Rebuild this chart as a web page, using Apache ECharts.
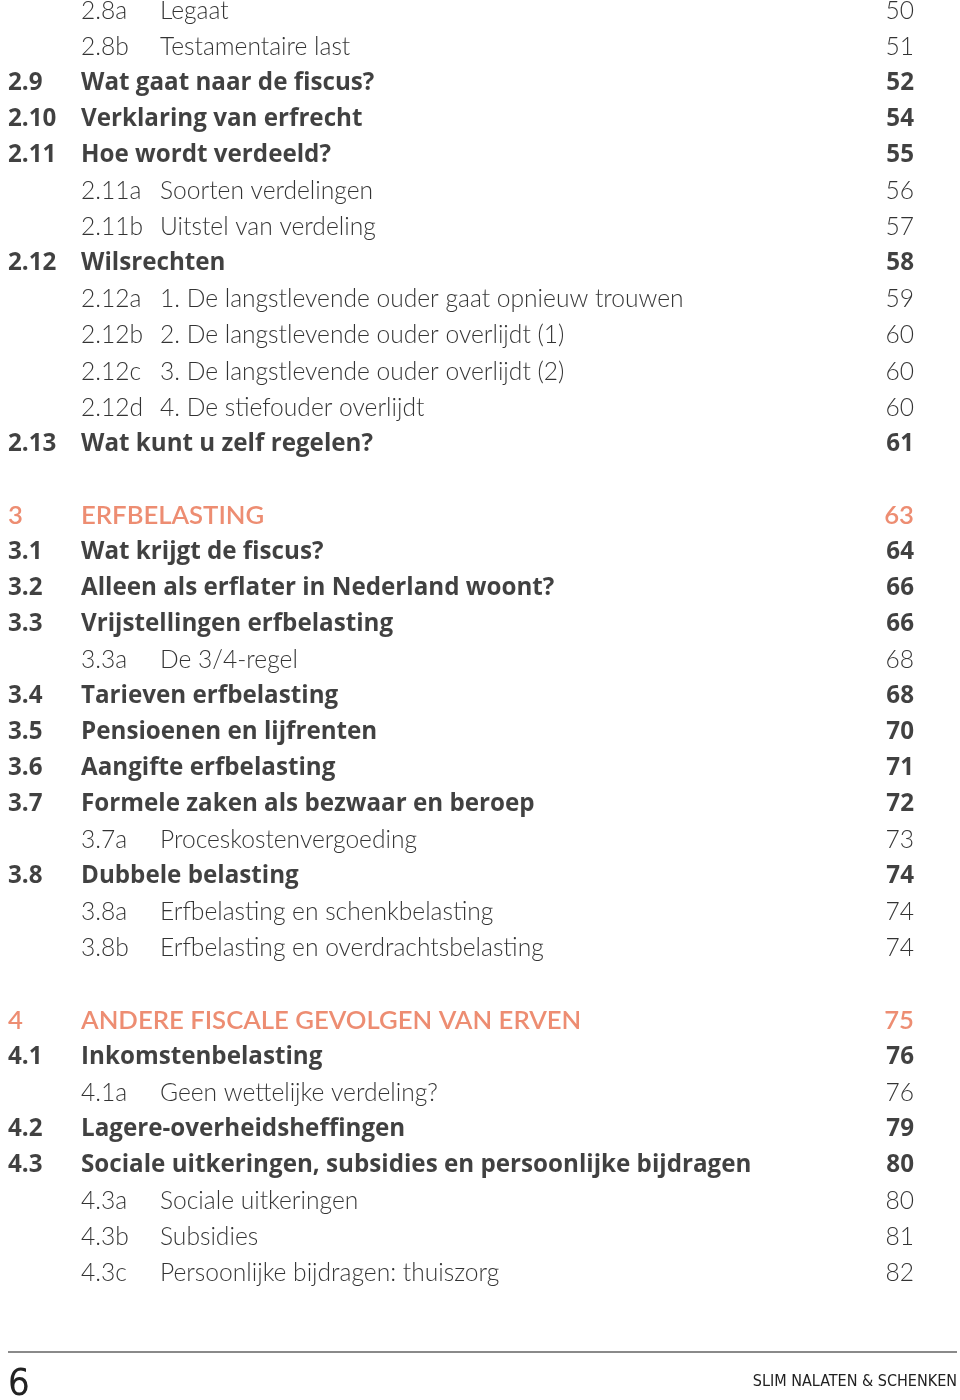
<!DOCTYPE html>
<html><head><meta charset="utf-8">
<script src="https://cdn.jsdelivr.net/npm/echarts@6/dist/echarts.min.js"></script>
<style>html,body{margin:0;padding:0;background:#fff}#c{width:960px;height:1400px}</style>
</head><body><div id="c"></div>
<script>
// Table of contents rows ('' = blank spacer row)
const levels = ['u','u','s','s','s','u','u','s','u','u','u','u','s','',
  'c','s','s','s','u','s','s','s','s','u','s','u','u','',
  'c','s','u','s','s','u','u','u'];
const numbers = ['2.8a','2.8b','2.9','2.10','2.11','2.11a','2.11b','2.12','2.12a','2.12b','2.12c','2.12d','2.13','',
  '3','3.1','3.2','3.3','3.3a','3.4','3.5','3.6','3.7','3.7a','3.8','3.8a','3.8b','',
  '4','4.1','4.1a','4.2','4.3','4.3a','4.3b','4.3c'];
const titles = ['Legaat','Testamentaire last','Wat gaat naar de fiscus?','Verklaring van erfrecht','Hoe wordt verdeeld?',
  'Soorten verdelingen','Uitstel van verdeling','Wilsrechten',
  '1. De langstlevende ouder gaat opnieuw trouwen','2. De langstlevende ouder overlijdt (1)',
  '3. De langstlevende ouder overlijdt (2)','4. De stiefouder overlijdt','Wat kunt u zelf regelen?','',
  'ERFBELASTING','Wat krijgt de fiscus?','Alleen als erflater in Nederland woont?','Vrijstellingen erfbelasting',
  'De 3/4-regel','Tarieven erfbelasting','Pensioenen en lijfrenten','Aangifte erfbelasting',
  'Formele zaken als bezwaar en beroep','Proceskostenvergoeding','Dubbele belasting',
  'Erfbelasting en schenkbelasting','Erfbelasting en overdrachtsbelasting','',
  'ANDERE FISCALE GEVOLGEN VAN ERVEN','Inkomstenbelasting','Geen wettelijke verdeling?',
  'Lagere-overheidsheffingen','Sociale uitkeringen, subsidies en persoonlijke bijdragen',
  'Sociale uitkeringen','Subsidies','Persoonlijke bijdragen: thuiszorg'];
const pages = ['50','51','52','54','55','56','57','58','59','60','60','60','61','',
  '63','64','66','66','68','68','70','71','72','73','74','74','74','',
  '75','76','76','79','80','80','81','82'];
const footerPage = '6';
const footerTitle = 'SLIM NALATEN & SCHENKEN';

// layout / style
const rowIds = levels.map((_, i) => String(i));
const COL = { numMain: 8, titleMain: 81, numSub: 81, titleSub: 160, page: 914 };
const styleFor = {
  c: { color: '#e8704f', fontWeight: 600, fontSize: 25.7, fontFamily: 'Lato, sans-serif' },
  s: { color: '#111111', fontWeight: 700, fontSize: 24.2, fontFamily: '"Open Sans", Lato, sans-serif' },
  u: { color: '#000000', fontWeight: 300, fontSize: 24.6, fontFamily: 'Lato, sans-serif' }
};

function mk(text, x, row, lvl, align) {
  const st = styleFor[lvl];
  return {
    value: [x, rowIds[row]],
    label: { show: true, formatter: text, position: 'inside', align: align, verticalAlign: 'middle',
      color: st.color, fontWeight: st.fontWeight, fontSize: st.fontSize, fontFamily: st.fontFamily }
  };
}
const numData = [], titleData = [], pageData = [];
levels.forEach((lvl, i) => {
  if (!lvl) return;
  const sub = lvl === 'u';
  numData.push(mk(numbers[i], sub ? COL.numSub : COL.numMain, i, lvl, 'left'));
  titleData.push(mk(titles[i], sub ? COL.titleSub : COL.titleMain, i, lvl, 'left'));
  pageData.push(mk(pages[i], COL.page, i, lvl, 'right'));
});
const ser = (name, data) => ({ name, type: 'scatter', data, symbolSize: 0, silent: true, animation: false });

const chart = echarts.init(document.getElementById('c'), null, { renderer: 'canvas' });
chart.setOption({
  backgroundColor: '#fff',
  animation: false,
  grid: { left: 0, right: 0, top: 11, bottom: 127 },
  xAxis: { type: 'value', min: 0, max: 960, show: false },
  yAxis: { type: 'category', data: rowIds, inverse: true, boundaryGap: false, show: false },
  series: [ser('numbers', numData), ser('titles', titleData), ser('pages', pageData)],
  graphic: [
    { type: 'line', shape: { x1: 8, y1: 1352, x2: 957, y2: 1352 }, style: { stroke: '#8a8a8a', lineWidth: 2 } },
    { type: 'text', x: 8, y: 1385, style: { text: footerPage, fill: '#222', font: '38px "Liberation Sans Narrow", "DejaVu Sans Condensed", sans-serif', textVerticalAlign: 'middle', textAlign: 'left' } },
    { type: 'text', x: 957, y: 1382, style: { text: footerTitle, fill: '#222', font: '16px "Liberation Sans Narrow", "DejaVu Sans Condensed", sans-serif', textVerticalAlign: 'middle', textAlign: 'right' } }
  ]
});
</script></body></html>
